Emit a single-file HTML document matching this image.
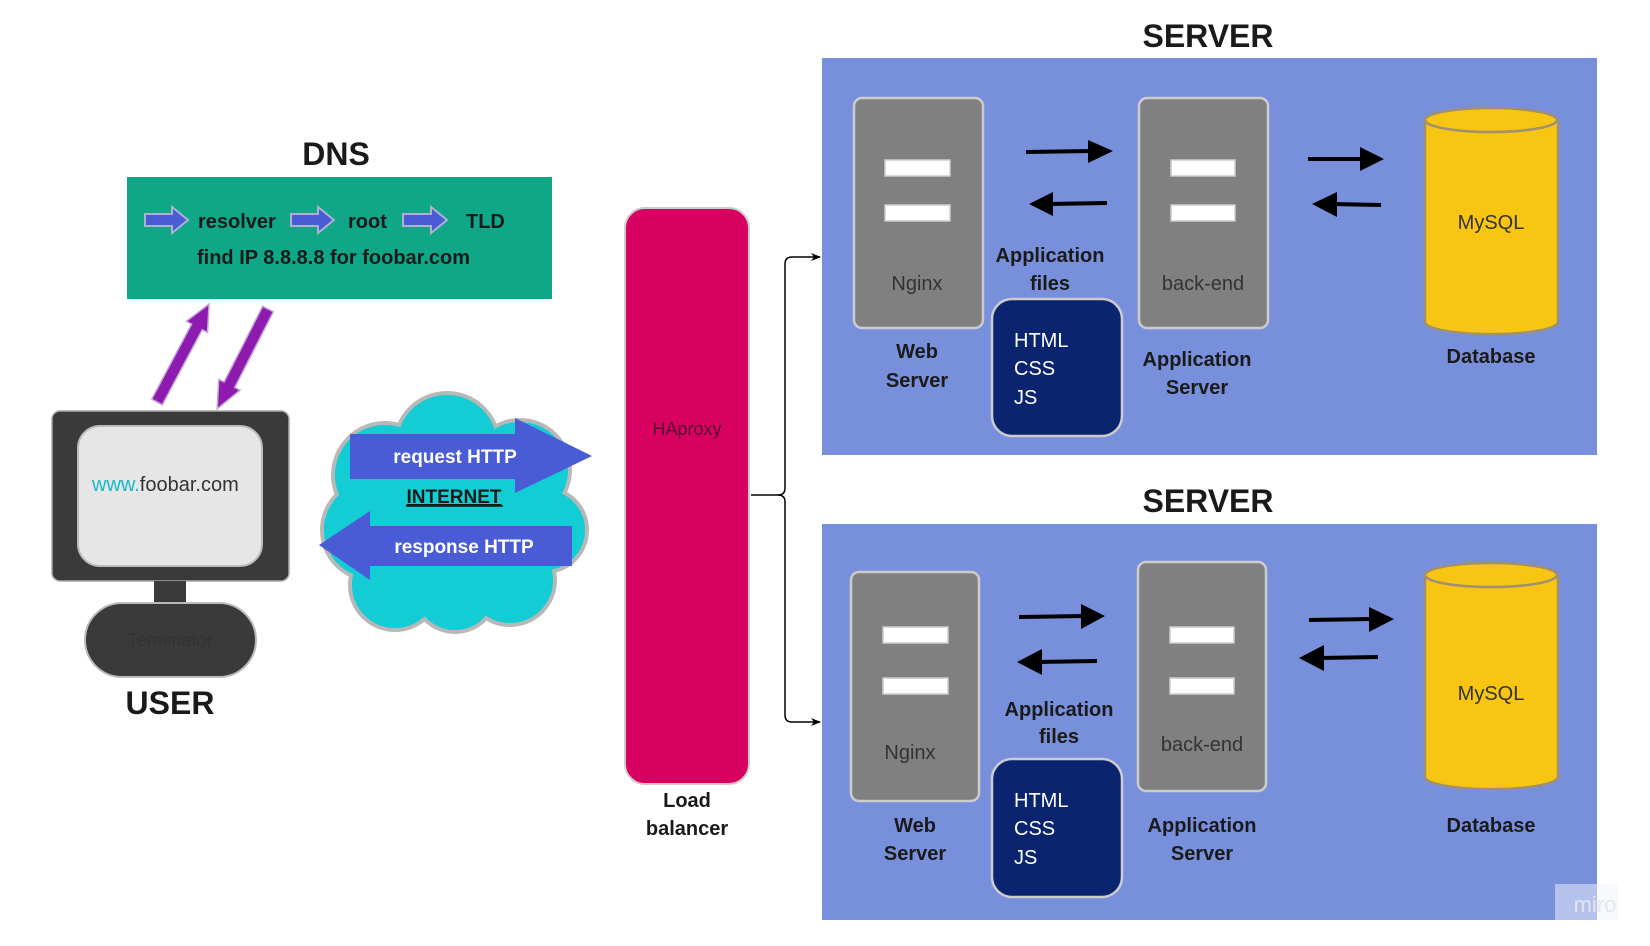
<!DOCTYPE html>
<html><head><meta charset="utf-8"><style>
html,body{margin:0;padding:0;background:#fff;}
svg{display:block;}
text{font-family:"Liberation Sans",sans-serif;}
.b{font-weight:bold;}
</style></head><body>
<svg width="1650" height="946" viewBox="0 0 1650 946" xmlns="http://www.w3.org/2000/svg">
<defs>
<marker id="m" markerWidth="10" markerHeight="10" refX="9" refY="5" orient="auto" markerUnits="userSpaceOnUse"><path d="M0,1 L10,5 L0,9 L3,5 Z" fill="#000"/></marker>
</defs>
<!-- DNS -->
<text x="336" y="165" text-anchor="middle" class="b" font-size="32" fill="#1a1a1a">DNS</text>
<rect x="127" y="177" width="425" height="122" fill="#10a789"/>
<g fill="#4a5bd6" stroke="#b0b0d0" stroke-width="2">
<polygon points="145,214 172,214 172,207 188,220 172,233 172,226 145,226"/>
<polygon points="291,214 318,214 318,207 334,220 318,233 318,226 291,226"/>
<polygon points="403,214 431,214 431,207 447,220 431,233 431,226 403,226"/>
</g>
<g class="b" font-size="20" fill="#1a1a1a">
<text x="198" y="228">resolver</text>
<text x="348" y="228">root</text>
<text x="466" y="228">TLD</text>
<text x="197" y="264">find IP 8.8.8.8 for foobar.com</text>
</g>
<!-- purple arrows -->
<g fill="#8e1bb0" stroke="#c8a8d8" stroke-width="1.5">
<polygon transform="translate(157,402) rotate(-62)" points="0,-6 85,-6 85,-12 111,0 85,12 85,6 0,6"/>
<polygon transform="translate(268,309) rotate(117)" points="0,-6 85,-6 85,-12 112,0 85,12 85,6 0,6"/>
</g>
<!-- monitor -->
<rect x="52" y="411" width="237" height="170" rx="8" fill="#3a3a3a" stroke="#aaa" stroke-width="1.5"/>
<rect x="78" y="426" width="184" height="140" rx="22" fill="#e6e6e6" stroke="#bbb" stroke-width="2"/>
<text x="92" y="491" font-size="20" fill="#333"><tspan fill="#18b8c8">www.</tspan>foobar.com</text>
<rect x="154" y="581" width="32" height="22" fill="#3a3a3a"/>
<rect x="85" y="603" width="171" height="74" rx="37" fill="#3a3a3a" stroke="#bbb" stroke-width="2"/>
<text x="170" y="646" text-anchor="middle" font-size="18" fill="#333">Terminator</text>
<text x="170" y="714" text-anchor="middle" class="b" font-size="32" fill="#1a1a1a">USER</text>
<!-- cloud -->
<g fill="#14cdd4" stroke="#b8b8b8" stroke-width="4">
<circle cx="447" cy="445" r="52"/><circle cx="385" cy="475" r="52"/><circle cx="520" cy="470" r="50"/>
<circle cx="372" cy="530" r="50"/><circle cx="545" cy="530" r="42"/><circle cx="395" cy="585" r="45"/>
<circle cx="455" cy="590" r="42"/><circle cx="510" cy="580" r="45"/>
</g>
<g fill="#14cdd4">
<circle cx="447" cy="445" r="50"/><circle cx="385" cy="475" r="50"/><circle cx="520" cy="470" r="48"/>
<circle cx="372" cy="530" r="48"/><circle cx="545" cy="530" r="40"/><circle cx="395" cy="585" r="43"/>
<circle cx="455" cy="590" r="40"/><circle cx="510" cy="580" r="43"/><rect x="380" y="460" width="160" height="140"/>
</g>
<polygon points="350,434 515,434 515,418 592,456 515,493 515,479 350,479" fill="#4a5bd6"/>
<text x="455" y="463" text-anchor="middle" class="b" font-size="19" fill="#fff">request HTTP</text>
<text x="454" y="503" text-anchor="middle" class="b" font-size="19" fill="#1a1a1a" text-decoration="underline">INTERNET</text>
<line x1="406" y1="506" x2="503" y2="506" stroke="#1a1a1a" stroke-width="1.5"/>
<polygon points="572,526 370,526 370,511 319,545 370,580 370,566 572,566" fill="#4a5bd6"/>
<text x="464" y="553" text-anchor="middle" class="b" font-size="19" fill="#fff">response HTTP</text>
<!-- HAproxy -->
<rect x="625" y="208" width="124" height="576" rx="20" fill="#d80060" stroke="#ccc" stroke-width="2"/>
<text x="687" y="435" text-anchor="middle" font-size="18" fill="#5a1030">HAproxy</text>
<text x="687" y="807" text-anchor="middle" class="b" font-size="20" fill="#1a1a1a">Load</text>
<text x="687" y="835" text-anchor="middle" class="b" font-size="20" fill="#1a1a1a">balancer</text>
<path d="M751,495 L778,495 Q785,495 785,488 L785,264 Q785,257 792,257 L820,257" fill="none" stroke="#000" stroke-width="1.5" marker-end="url(#m)"/>
<path d="M778,495 Q785,495 785,502 L785,715 Q785,722 792,722 L820,722" fill="none" stroke="#000" stroke-width="1.5" marker-end="url(#m)"/>
<!-- servers -->
<text x="1208" y="47" text-anchor="middle" class="b" font-size="32" fill="#1a1a1a">SERVER</text>
<text x="1208" y="512" text-anchor="middle" class="b" font-size="32" fill="#1a1a1a">SERVER</text>
<rect x="822" y="58" width="775" height="397" fill="#7890dc"/>
<rect x="822" y="524" width="775" height="396" fill="#7890dc"/>
<g stroke="#ccc" stroke-width="2.5" fill="#808080">
<rect x="854" y="98" width="129" height="230" rx="8"/>
<rect x="1139" y="98" width="129" height="230" rx="8"/>
<rect x="851" y="572" width="128" height="229" rx="8"/>
<rect x="1138" y="562" width="128" height="229" rx="8"/>
</g>
<g fill="#fff" stroke="#ccc" stroke-width="1.5">
<rect x="885" y="160" width="65" height="16"/><rect x="885" y="205" width="65" height="16"/>
<rect x="1171" y="160" width="64" height="16"/><rect x="1171" y="205" width="64" height="16"/>
<rect x="883" y="627" width="65" height="16"/><rect x="883" y="678" width="65" height="16"/>
<rect x="1170" y="627" width="64" height="16"/><rect x="1170" y="678" width="64" height="16"/>
</g>
<g font-size="20" fill="#333" text-anchor="middle">
<text x="917" y="290">Nginx</text><text x="1203" y="290">back-end</text>
<text x="910" y="759">Nginx</text><text x="1202" y="751">back-end</text>
</g>
<g class="b" font-size="20" fill="#1a1a1a" text-anchor="middle">
<text x="917" y="358">Web</text><text x="917" y="387">Server</text>
<text x="1050" y="262">Application</text><text x="1050" y="290">files</text>
<text x="1197" y="366">Application</text><text x="1197" y="394">Server</text>
<text x="1491" y="363">Database</text>
<text x="915" y="832">Web</text><text x="915" y="860">Server</text>
<text x="1059" y="716">Application</text><text x="1059" y="743">files</text>
<text x="1202" y="832">Application</text><text x="1202" y="860">Server</text>
<text x="1491" y="832">Database</text>
</g>
<g fill="#0a2470" stroke="#ccc" stroke-width="2.5">
<rect x="992" y="299" width="130" height="137" rx="20"/>
<rect x="992" y="759" width="130" height="138" rx="20"/>
</g>
<g font-size="20" fill="#fff">
<text x="1014" y="347">HTML</text><text x="1014" y="375">CSS</text><text x="1014" y="404">JS</text>
<text x="1014" y="807">HTML</text><text x="1014" y="835">CSS</text><text x="1014" y="864">JS</text>
</g>
<!-- black arrows -->
<g stroke="#000" stroke-width="4">
<line x1="1026" y1="152" x2="1092" y2="151"/><line x1="1048" y1="204" x2="1107" y2="203"/>
<line x1="1308" y1="159" x2="1363" y2="159"/><line x1="1332" y1="204" x2="1381" y2="205"/>
<line x1="1019" y1="617" x2="1085" y2="616"/><line x1="1037" y1="662" x2="1097" y2="661"/>
<line x1="1309" y1="620" x2="1372" y2="619"/><line x1="1319" y1="658" x2="1378" y2="657"/>
</g>
<g fill="#000">
<polygon points="1088,140 1113,151 1088,163"/><polygon points="1053,192 1029,204 1053,216"/>
<polygon points="1360,147 1384,159 1360,171"/><polygon points="1337,192 1312,204 1337,217"/>
<polygon points="1081,604 1105,616 1081,629"/><polygon points="1042,649 1017,662 1042,675"/>
<polygon points="1369,607 1394,619 1369,632"/><polygon points="1324,645 1299,658 1324,671"/>
</g>
<!-- cylinders -->
<g fill="#f8c512" stroke="#a09070" stroke-width="2.5">
<path d="M1425,120 L1425,322 A66,12 0 0 0 1558,322 L1558,120"/>
<ellipse cx="1491" cy="120" rx="66" ry="12"/>
<path d="M1425,575 L1425,777 A66,12 0 0 0 1558,777 L1558,575"/>
<ellipse cx="1491" cy="575" rx="66" ry="12"/>
</g>
<g font-size="20" fill="#333" text-anchor="middle">
<text x="1491" y="229">MySQL</text><text x="1491" y="700">MySQL</text>
</g>
<rect x="1555" y="884" width="63" height="36" fill="#f2f4fb" opacity="0.5"/>
<text x="1595" y="912" text-anchor="middle" font-size="22" fill="#e4e6f0">miro</text>
</svg>
</body></html>
